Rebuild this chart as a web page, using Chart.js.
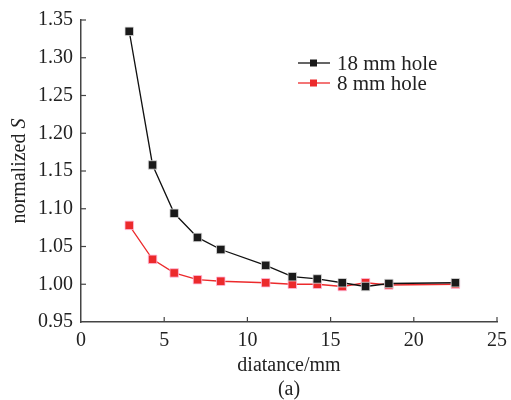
<!DOCTYPE html>
<html>
<head>
<meta charset="utf-8">
<script src="https://cdn.jsdelivr.net/npm/chart.js@4.4.0/dist/chart.umd.min.js"></script>
<style>
  body { margin: 0; background: #fff; }
</style>
</head>
<body>
<canvas id="chart" width="511" height="400"></canvas>
<script>
var distances = [2.9, 4.3, 5.6, 7.0, 8.4, 11.1, 12.7, 14.2, 15.7, 17.1, 18.5, 22.5];
var hole18 = [1.335, 1.158, 1.094, 1.062, 1.046, 1.025, 1.010, 1.007, 1.002, 0.997, 1.001, 1.002];
var hole8 = [1.078, 1.033, 1.015, 1.006, 1.004, 1.002, 1.000, 1.000, 0.997, 1.002, 0.999, 1.000];
var seriesNames = ["18 mm hole", "8 mm hole"];

var serif = "'Liberation Serif', 'DejaVu Serif', serif";
var axisColor = "#444";

function pts(ys) {
    return distances.map(function (x, i) { return { x: x, y: ys[i] }; });
}

// ticks pointing into the plot, y title with italic S, custom legend
var extras = {
    id: "extras",
    afterDraw: function (chart) {
        var ctx = chart.ctx;
        var xs = chart.scales.x, ys = chart.scales.y;
        var area = chart.chartArea;
        ctx.save();
        ctx.strokeStyle = axisColor;
        ctx.lineWidth = 1.2;
        xs.ticks.forEach(function (t) {
            var px = xs.getPixelForValue(t.value);
            if (px <= area.left + 1) return;
            ctx.beginPath();
            ctx.moveTo(px, area.bottom);
            ctx.lineTo(px, area.bottom - 5);
            ctx.stroke();
        });
        ys.ticks.forEach(function (t) {
            var py = ys.getPixelForValue(t.value);
            if (py >= area.bottom - 1) return;
            ctx.beginPath();
            ctx.moveTo(area.left, py);
            ctx.lineTo(area.left + 5, py);
            ctx.stroke();
        });

        // y axis title
        ctx.translate(20, (area.top + area.bottom) / 2);
        ctx.rotate(-Math.PI / 2);
        ctx.fillStyle = "#222";
        ctx.textBaseline = "middle";
        var f1 = "20px " + serif, f2 = "italic 20px " + serif;
        ctx.font = f1;
        var w1 = ctx.measureText("normalized ").width;
        ctx.font = f2;
        var w2 = ctx.measureText("S").width;
        var sx = -(w1 + w2) / 2;
        ctx.font = f1;
        ctx.fillText("normalized ", sx, 0);
        ctx.font = f2;
        ctx.fillText("S", sx + w1, 0);
        ctx.restore();

        // legend
        ctx.save();
        chart.data.datasets.forEach(function (ds, i) {
            var ly = 63 + i * 20;
            ctx.strokeStyle = ds.borderColor;
            ctx.lineWidth = 1.3;
            ctx.beginPath();
            ctx.moveTo(298, ly);
            ctx.lineTo(330, ly);
            ctx.stroke();
            ctx.fillStyle = ds.pointBackgroundColor;
            ctx.fillRect(310, ly - 3.5, 7, 7);
            ctx.fillStyle = "#222";
            ctx.font = "21px " + serif;
            ctx.textBaseline = "middle";
            ctx.fillText(ds.label, 337, ly + 1);
        });
        ctx.restore();
    }
};

new Chart(document.getElementById("chart"), {
    type: "scatter",
    data: {
        datasets: [{
            label: seriesNames[0],
            data: pts(hole18),
            showLine: true,
            borderColor: "#111",
            borderWidth: 1.3,
            pointStyle: "rect",
            pointRadius: 6,
            pointBackgroundColor: "#1a1a1a",
            pointBorderColor: "#ddd",
            pointBorderWidth: 0.8
        }, {
            label: seriesNames[1],
            data: pts(hole8),
            showLine: true,
            borderColor: "#ec2a2c",
            borderWidth: 1.3,
            pointStyle: "rect",
            pointRadius: 6,
            pointBackgroundColor: "#ec2a2c",
            pointBorderColor: "#fbd",
            pointBorderWidth: 0.8
        }]
    },
    options: {
        responsive: false,
        animation: false,
        layout: { padding: { top: 20, right: 14, left: 0, bottom: 0 } },
        plugins: {
            legend: { display: false },
            tooltip: { enabled: false }
        },
        scales: {
            x: {
                type: "linear",
                min: 0, max: 25,
                ticks: { stepSize: 5, color: "#222", padding: 7, font: { family: serif, size: 20 } },
                grid: { display: true, drawOnChartArea: false, drawTicks: false },
                border: { color: axisColor, width: 1.5 },
                title: {
                    display: true,
                    text: ["diatance/mm", "(a)"],
                    color: "#222",
                    padding: { top: 0, bottom: -2 },
                    font: { family: serif, size: 20 }
                },
                afterFit: function (s) { s.height = 78; s.paddingLeft = 0; s.paddingRight = 0; }
            },
            y: {
                min: 0.95, max: 1.35,
                ticks: {
                    stepSize: 0.05, color: "#222", padding: 8,
                    font: { family: serif, size: 20 },
                    callback: function (v) { return v.toFixed(2); }
                },
                grid: { display: true, drawOnChartArea: false, drawTicks: false },
                border: { color: axisColor, width: 1.5 },
                afterFit: function (s) { s.width = 81; s.paddingTop = 0; s.paddingBottom = 0; }
            }
        }
    },
    plugins: [extras]
});
</script>
</body>
</html>
